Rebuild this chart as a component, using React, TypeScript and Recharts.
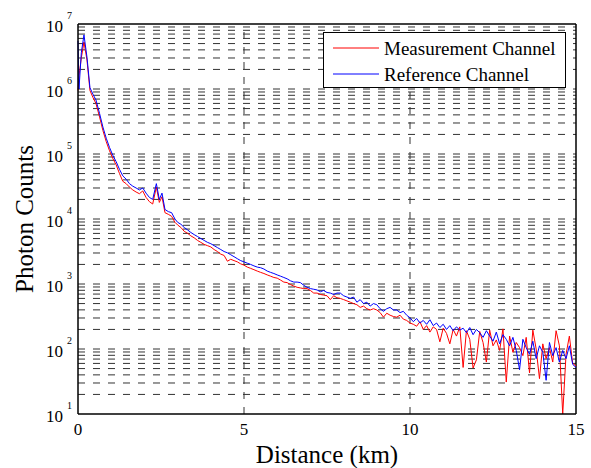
import React from 'react';
import { LineChart, Line, XAxis, YAxis, ReferenceLine, Legend } from 'recharts';

const distance = [
  0, 0.03, 0.1, 0.18, 0.27, 0.36, 0.45, 0.54, 0.65, 0.75, 0.85, 0.95, 1.05, 1.15, 1.25, 1.35,
  1.45, 1.55, 1.65, 1.75, 1.85, 1.95, 2.05, 2.15, 2.25, 2.36, 2.45, 2.53, 2.62, 2.72, 2.82, 2.92,
  3.0, 3.1, 3.2, 3.3, 3.4, 3.5, 3.6, 3.7, 3.8, 3.9,
  4.0, 4.1, 4.2, 4.3, 4.4, 4.5, 4.6, 4.7, 4.8, 4.9,
  5.0, 5.1, 5.2, 5.3, 5.4, 5.5, 5.6, 5.7, 5.8, 5.9,
  6.0, 6.1, 6.2, 6.3, 6.4, 6.5, 6.6, 6.7, 6.8, 6.9,
  7.0, 7.1, 7.2, 7.3, 7.4, 7.5, 7.6, 7.7, 7.8, 7.9,
  8.0, 8.1, 8.2, 8.3, 8.4, 8.5, 8.6, 8.7, 8.8, 8.9,
  9.0, 9.1, 9.2, 9.3, 9.4, 9.5, 9.6, 9.7, 9.8, 9.9,
  10.0, 10.1, 10.2, 10.3, 10.4, 10.5, 10.6, 10.7, 10.8, 10.9,
  11.0, 11.1, 11.2, 11.3, 11.4, 11.5, 11.6, 11.7, 11.8, 11.9,
  12.0, 12.1, 12.2, 12.3, 12.4, 12.5, 12.6, 12.7, 12.8, 12.9,
  13.0, 13.1, 13.2, 13.3, 13.4, 13.5, 13.6, 13.7, 13.8, 13.9,
  14.0, 14.1, 14.2, 14.3, 14.4, 14.5, 14.6, 14.7, 14.8, 14.9,
  15.0,
];

// Measurement Channel (red)
const measurement = [
  950000, 1600000, 3000000, 5300000, 2800000, 950000, 740000, 600000, 370000, 230000, 155000, 112000,
  85000, 68000, 50000, 38000, 35000, 31000, 28000, 26000, 24500, 27000, 21500, 18500, 17000, 31000,
  18000, 22000, 12500, 11800, 11000, 8900,
  8100, 7400, 6460, 6030, 5500, 5130, 4680, 4370, 4070, 3890,
  3720, 3390, 3160, 2880, 2750, 2240, 2400, 2290, 2190, 2040,
  1950, 1820, 1740, 1660, 1580, 1510, 1450, 1380, 1320, 1260,
  1230, 1150, 1070, 1050, 980, 930, 890, 870, 850, 850,
  795, 725, 725, 690, 675, 660, 575, 660, 615, 600,
  575, 550, 525, 500, 480, 437, 457, 417, 398, 417,
  398, 363, 309, 355, 331, 316, 309, 331, 288, 275,
  251, 240, 224, 263, 200, 229, 182, 219, 200, 129,
  209, 174, 120, 200, 158, 219, 52, 191, 141, 51,
  68, 186, 126, 63, 195, 112, 138, 95, 204, 31,
  158, 89, 126, 105, 79, 151, 43, 195, 100, 35,
  120, 71, 105, 63, 191, 112, 10, 83, 158, 60,
  55,
];

// Reference Channel (blue)
const reference = [
  5500000, 1000000, 3600000, 6800000, 3100000, 1050000, 830000, 680000, 420000, 260000, 175000, 126000,
  95000, 76000, 58000, 46000, 41000, 35000, 32000, 30000, 28000, 30000, 25000, 21500, 20000, 35000,
  20000, 25000, 14000, 13000, 12500, 10000,
  8900, 8300, 7400, 6800, 6200, 5750, 5370, 5010, 4680, 4370,
  4170, 3890, 3630, 3390, 3160, 3020, 2820, 2630, 2450, 2290,
  2190, 2090, 2000, 1900, 1820, 1780, 1700, 1580, 1510, 1450,
  1380, 1320, 1260, 1200, 1120, 1070, 1070, 1050, 955, 890,
  850, 830, 810, 760, 795, 740, 725, 690, 725, 725,
  660, 630, 600, 630, 525, 575, 500, 525, 457, 500,
  480, 417, 380, 417, 437, 398, 398, 363, 380, 331,
  302, 263, 295, 251, 275, 240, 282, 229, 251, 214,
  240, 200, 229, 191, 219, 195, 209, 178, 214, 166,
  200, 178, 151, 191, 158, 132, 182, 120, 166, 141,
  112, 151, 95, 48, 141, 105, 83, 132, 71, 112,
  89, 33, 126, 79, 105, 63, 95, 71, 112, 58,
  52,
];

const xTicks = [0, 5, 10, 15];
const yTicks = [10, 100, 1000, 10000, 100000, 1000000, 10000000];
const xGrid = [5, 10];
const yGrid = [
  20, 30, 40, 50, 60, 70, 80, 90,
  100, 200, 300, 400, 500, 600, 700, 800, 900,
  1000, 2000, 3000, 4000, 5000, 6000, 7000, 8000, 9000,
  10000, 20000, 30000, 40000, 50000, 60000, 70000, 80000, 90000,
  100000, 200000, 300000, 400000, 500000, 600000, 700000, 800000, 900000,
  1000000, 2000000, 3000000, 4000000, 5000000, 6000000, 7000000, 8000000, 9000000,
];

const data = distance.map((d, i) => ({ d, meas: measurement[i], ref: reference[i] }));

const FONT = '"Liberation Serif", "Times New Roman", serif';
const GRID = '#333';
const DASH = '7 8';

const YTick = ({ x, y, payload }: any) => {
  const exp = Math.round(Math.log10(payload.value));
  return (
    <g fontFamily={FONT} fill="#000">
      <text x={x - 15} y={y + 8} textAnchor="end" fontSize={17}>10</text>
      <text x={x - 11} y={y - 5} fontSize={10}>{exp}</text>
    </g>
  );
};

const XTick = ({ x, y, payload }: any) => (
  <text x={x} y={y + 21} textAnchor="middle" fontSize={17} fontFamily={FONT} fill="#000">
    {payload.value}
  </text>
);

const LegendBox = () => (
  <div
    style={{
      width: 243,
      height: 56,
      boxSizing: 'border-box',
      border: '1px solid #000',
      background: '#fff',
      fontFamily: FONT,
      fontSize: 19,
      color: '#000',
      position: 'relative',
    }}
  >
    {[
      { label: 'Measurement Channel', color: '#ff0000', top: 15 },
      { label: 'Reference Channel', color: '#0000ff', top: 41 },
    ].map(item => (
      <div key={item.label} style={{ position: 'absolute', left: 9, top: item.top - 11, height: 22, display: 'flex', alignItems: 'center', whiteSpace: 'nowrap' }}>
        <svg width={46} height={4} style={{ display: 'block' }}>
          <line x1={0} y1={2} x2={46} y2={2} stroke={item.color} strokeWidth={1} />
        </svg>
        <span style={{ marginLeft: 5, lineHeight: '22px', position: 'relative', top: 1 }}>{item.label}</span>
      </div>
    ))}
  </div>
);

export default function App() {
  return (
    <div style={{ position: 'absolute', left: 0, top: 0, width: 591, height: 468, background: '#fff' }}>
      <LineChart width={591} height={468} data={data} margin={{ top: 24, right: 15, bottom: 0, left: 0 }}>
        <XAxis
          dataKey="d"
          type="number"
          domain={[0, 15]}
          ticks={xTicks}
          height={54}
          tickSize={0}
          tickMargin={0}
          tick={<XTick />}
          axisLine={{ stroke: '#000', strokeWidth: 1.5 }}
          label={{ value: 'Distance (km)', position: 'insideBottom', offset: 5, fontSize: 25, fontFamily: FONT, fill: '#000' }}
        />
        <YAxis
          type="number"
          scale="log"
          domain={[10, 10000000]}
          ticks={yTicks}
          allowDataOverflow
          width={78}
          tickSize={0}
          tickMargin={0}
          tick={<YTick />}
          axisLine={{ stroke: '#000', strokeWidth: 1.5 }}
          label={{ value: 'Photon Counts', angle: -90, position: 'insideLeft', offset: 24, fontSize: 25, fontFamily: FONT, fill: '#000', style: { textAnchor: 'middle' } }}
        />
        {yGrid.map(v => (
          <ReferenceLine key={'y' + v} y={v} stroke={GRID} strokeDasharray={DASH} />
        ))}
        {xGrid.map(v => (
          <ReferenceLine key={'x' + v} x={v} stroke={GRID} strokeDasharray={DASH} />
        ))}
        <ReferenceLine y={10000000} stroke="#000" strokeWidth={1.5} />
        <ReferenceLine x={15} stroke="#000" strokeWidth={1.5} />
        <Line type="linear" dataKey="meas" stroke="#ff0000" strokeWidth={1} dot={false} isAnimationActive={false} />
        <Line type="linear" dataKey="ref" stroke="#0000ff" strokeWidth={1} dot={false} isAnimationActive={false} />
        <Legend
          layout="horizontal"
          verticalAlign="middle"
          align="center"
          content={() => <LegendBox />}
          wrapperStyle={{ top: 32, left: 323, width: 243, height: 56 }}
        />
      </LineChart>
    </div>
  );
}
